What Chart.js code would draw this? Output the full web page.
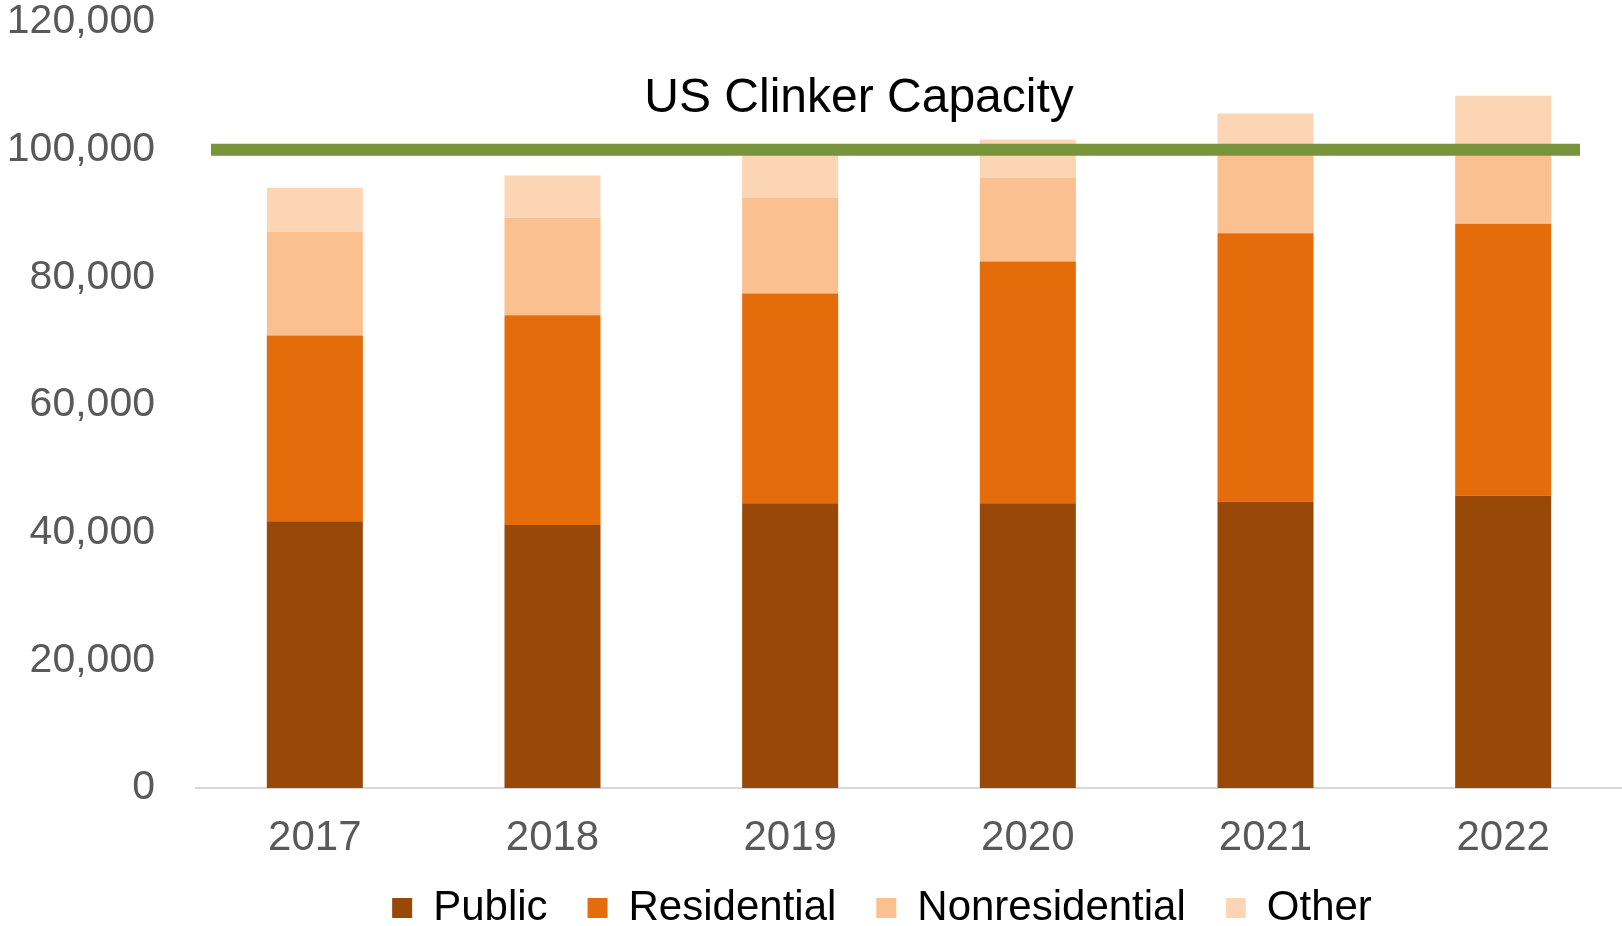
<!DOCTYPE html>
<html><head><meta charset="utf-8">
<script src="https://cdn.jsdelivr.net/npm/chart.js@4/dist/chart.umd.min.js"></script>
<style>html,body{margin:0;padding:0;background:#fff;overflow:hidden}#wrap{width:1622px;height:926px}</style>
</head><body><div id="wrap"><canvas id="c" width="1622" height="926"></canvas></div>
<script>
const categories = ['2017', '2018', '2019', '2020', '2021', '2022'];
const publicValues = [41800, 41200, 44600, 44600, 44900, 45800];
const residentialValues = [29100, 32850, 32850, 37900, 42000, 42600];
const nonresidentialValues = [16250, 15300, 15050, 13150, 12900, 11600];
const otherValues = [6900, 6600, 7300, 5950, 5850, 8450];
const seriesNames = ['Public', 'Residential', 'Nonresidential', 'Other'];
const capacityValue = 100000;
const capacityLabel = 'US Clinker Capacity';
const yTickValues = [0, 20000, 40000, 60000, 80000, 100000, 120000];

const FONT = '"Liberation Sans", Arial, Helvetica, sans-serif';
const colors = ['#984807', '#E46C0A', '#FAC090', '#FCD5B5'];
const seriesValues = [publicValues, residentialValues, nonresidentialValues, otherValues];

const barSets = seriesNames.map((name, i) => ({
  type: 'bar',
  label: name,
  data: seriesValues[i],
  backgroundColor: colors[i],
  borderWidth: 0,
  order: 1,
  grouped: false,
  categoryPercentage: 0.404,
  barPercentage: 1.0
}));

const capacitySet = {
  type: 'line',
  label: capacityLabel,
  data: [{x: 0, y: capacityValue}, {x: 1, y: capacityValue}],
  xAxisID: 'xLine',
  borderColor: '#77933C',
  borderWidth: 12,
  pointRadius: 0,
  fill: false,
  order: 0
};

const helperPlugin = {
  id: 'capLabel',
  afterLayout(chart) {
    const lg = chart.legend;
    const dx = 882 - (lg.left + lg.right) / 2;
    lg.left += dx; lg.right += dx;
    lg.top = 847; lg.height = 92; lg.bottom = lg.top + lg.height;
  },
  afterDatasetsDraw(chart) {
    const ctx = chart.ctx;
    const xs = chart.scales.xLine, ys = chart.scales.y;
    ctx.save();
    ctx.font = '48px ' + FONT;
    ctx.fillStyle = '#000000';
    ctx.textAlign = 'center';
    ctx.textBaseline = 'alphabetic';
    ctx.fillText(capacityLabel, xs.getPixelForValue(0.4734), ys.getPixelForValue(capacityValue) - 38);
    ctx.restore();
  }
};

new Chart(document.getElementById('c'), {
  data: { labels: categories, datasets: [...barSets, capacitySet] },
  options: {
    responsive: false,
    devicePixelRatio: 1,
    animation: false,
    layout: { padding: { left: 6, right: 0, top: 22, bottom: 0 } },
    scales: {
      x: {
        stacked: true,
        grid: { display: false, drawTicks: false },
        border: { display: true, color: '#D9D9D9', width: 2 },
        ticks: { color: '#595959', font: { family: FONT, size: 42 }, padding: 25 },
        afterFit(s) { s.paddingLeft = 0; s.paddingRight = 0; s.height = 75.4; }
      },
      xLine: {
        type: 'linear', display: false, position: 'bottom', offset: false, min: -0.01094, max: 1.0307
      },
      y: {
        stacked: true,
        min: 0, max: 120000,
        grid: { display: false, drawTicks: false },
        border: { display: false },
        afterBuildTicks(s) { s.ticks = yTickValues.map(v => ({ value: v })); },
        ticks: {
          color: '#595959',
          font: { family: FONT, size: 41, lineHeight: 1 },
          padding: 41,
          callback: v => Number(v).toLocaleString('en-US')
        },
        afterFit(s) { s.width = 190; s.paddingTop = 0; s.paddingBottom = 0; }
      }
    },
    plugins: {
      legend: {
        position: 'bottom',
        maxHeight: 62.6,
        labels: {
          filter: item => item.datasetIndex < 4,
          boxWidth: 20, boxHeight: 20,
          color: '#000000',
          padding: 40,
          font: { family: FONT, size: 42 }
        }
      },
      tooltip: { enabled: false }
    }
  },
  plugins: [helperPlugin]
});
</script></body></html>
